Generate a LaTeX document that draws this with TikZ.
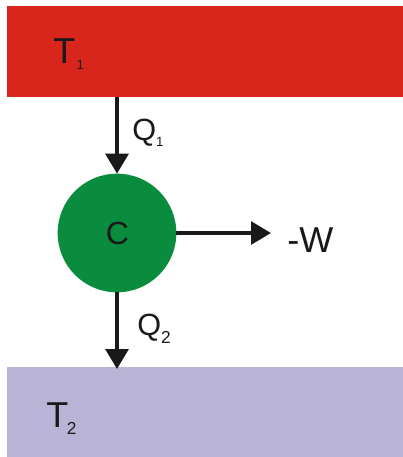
\documentclass[tikz,border=0pt]{standalone}
\usepackage{fontspec}
\setmainfont{Liberation Sans}
\usetikzlibrary{arrows.meta}
\definecolor{hotred}{RGB}{217,38,28}
\definecolor{coldlav}{RGB}{185,180,214}
\definecolor{enggreen}{RGB}{10,140,62}
\tikzset{
  reservoir/.style={draw=none, inner sep=0, outer sep=0},
  flow/.style={line width=3pt, draw=black!90, -{Triangle[length=15pt,width=17pt]}},
  lbl/.style={anchor=base west, inner sep=0, text=black!90},
}
\newcommand{\bigtxt}{\fontsize{27}{27}\selectfont}
\newcommand{\midtxt}{\fontsize{23}{23}\selectfont}
\newcommand{\subtxt}[2]{\raisebox{-#1}{\fontsize{#2}{#2}\selectfont}}
\begin{document}
\begin{tikzpicture}[x=0.75pt,y=-0.75pt]
\useasboundingbox (0,0) rectangle (403,457);
\fill[white] (0,0) rectangle (403,457);
% reservoirs
\fill[hotred] (7,6) rectangle (403,97);
\coordinate (hotS) at (117,97);
\fill[coldlav] (7,367) rectangle (403,457);
\coordinate (coldN) at (117,369);
% engine
\node[circle, fill=enggreen, minimum size=89pt, inner sep=0, outer sep=0] (eng) at (117,233) {};
\node[inner sep=0, text=black!90] (c) at (117.5,233) {\fontsize{24}{24}\selectfont C};
% arrows
\draw[flow] (hotS) -- (eng.north);
\draw[flow] (eng.south) -- (coldN);
\coordinate (wend) at (271,233);
\draw[flow] (eng.east) -- (wend);
% labels
\node[lbl] (t1) at (53,63) {\bigtxt T\hspace{1pt}{\raisebox{-5pt}{\fontsize{10}{10}\selectfont 1}}};
\node[lbl] (t2) at (46,427) {\bigtxt T\hspace{-1pt}{\raisebox{-5.5pt}{\fontsize{13}{13}\selectfont 2}}};
\node[lbl] (q1) at (132,140) {\midtxt Q{\raisebox{-5pt}{\fontsize{10}{10}\selectfont 1}}};
\node[lbl] (q2) at (137,335) {\midtxt Q{\raisebox{-6pt}{\fontsize{13}{13}\selectfont 2}}};
\node[lbl] (w) at (287,252) {\bigtxt -W};
\end{tikzpicture}
\end{document}
